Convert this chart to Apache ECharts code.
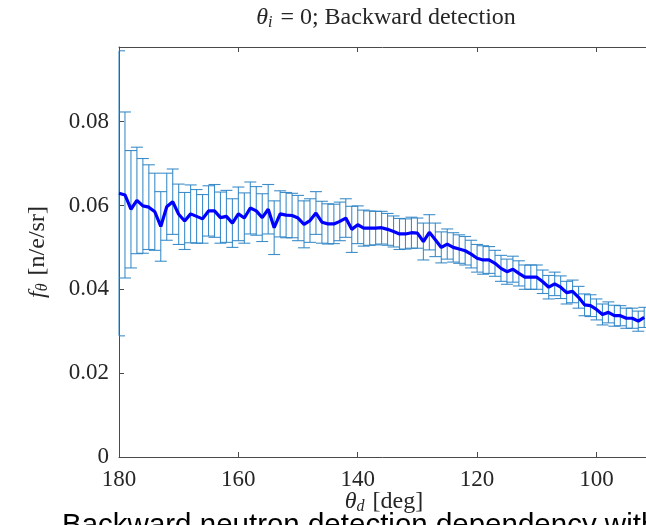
<!DOCTYPE html>
<html>
<head>
<meta charset="utf-8">
<script src="https://cdn.jsdelivr.net/npm/echarts@6/dist/echarts.min.js"></script>
<style>html,body{margin:0;padding:0;background:#fff}#c{width:646px;height:525px}</style>
</head>
<body>
<div id="c"></div>
<script>
// Detection angle theta_d [deg]
const angles = [180,179,178,177,176,175,174,173,172,171,170,169,168,167,166,165,164,163,162,161,
160,159,158,157,156,155,154,153,152,151,150,149,148,147,146,145,144,143,142,141,
140,139,138,137,136,135,134,133,132,131,130,129,128,127,126,125,124,123,122,121,
120,119,118,117,116,115,114,113,112,111,110,109,108,107,106,105,104,103,102,101,
100,99,98,97,96,95,94,93,92];
// f_theta [n/e/sr]
const fTheta = [0.0629,0.0625,0.0591,0.0612,0.0599,0.0596,0.0585,0.0550,0.0597,0.0609,
0.0579,0.0563,0.0580,0.0574,0.0568,0.0587,0.0587,0.0571,0.0574,0.0558,
0.0580,0.0570,0.0594,0.0587,0.0571,0.0591,0.0547,0.0580,0.0577,0.0576,
0.0570,0.0555,0.0564,0.0582,0.0560,0.0556,0.0556,0.0562,0.0570,0.0543,
0.0554,0.0546,0.0546,0.0546,0.0547,0.0543,0.0538,0.0532,0.0532,0.0535,
0.0534,0.0514,0.0536,0.0518,0.0500,0.0508,0.0500,0.0496,0.0492,0.0484,
0.0474,0.0470,0.0470,0.0462,0.0450,0.0442,0.0448,0.0438,0.0429,0.0429,
0.0429,0.0418,0.0405,0.0413,0.0405,0.0392,0.0395,0.0381,0.0363,0.0361,
0.0352,0.0340,0.0345,0.0337,0.0337,0.0331,0.0331,0.0324,0.0333];
// error bar half-widths
const errHalf = [0.0340,0.0198,0.0140,0.0127,0.0113,0.0101,0.0092,0.0083,0.0080,0.0078,
0.0072,0.0068,0.0069,0.0064,0.0058,0.0060,0.0063,0.0061,0.0062,0.0058,
0.0064,0.0060,0.0062,0.0058,0.0057,0.0059,0.0064,0.0055,0.0054,0.0053,
0.0054,0.0056,0.0052,0.0051,0.0050,0.0048,0.0047,0.0046,0.0046,0.0055,
0.0045,0.0043,0.0041,0.0040,0.0039,0.0038,0.0037,0.0037,0.0036,0.0037,
0.0036,0.0044,0.0042,0.0040,0.0037,0.0036,0.0035,0.0034,0.0034,0.0033,
0.0033,0.0034,0.0032,0.0031,0.0031,0.0030,0.0031,0.0030,0.0029,0.0029,
0.0029,0.0028,0.0028,0.0028,0.0027,0.0027,0.0027,0.0026,0.0026,0.0026,
0.0025,0.0025,0.0025,0.0025,0.0024,0.0024,0.0024,0.0024,0.0024];
const xTicks = [180,160,140,120,100];
const yTicks = [0,0.02,0.04,0.06,0.08];

const lineData = angles.map((a,i)=>[a,fTheta[i]]);
const errData = angles.map((a,i)=>[a,fTheta[i]-errHalf[i],fTheta[i]+errHalf[i]]);

const SERIF = '"Liberation Serif","DejaVu Serif",serif';
const AX = '#4a4a4a';
const TXT = '#262626';
const richMath = {
  it:{fontFamily:SERIF, fontStyle:'italic', fontSize:24, fill:TXT, color:TXT},
  rm:{fontFamily:SERIF, fontSize:24, fill:TXT, color:TXT},
  sub:{fontFamily:SERIF, fontStyle:'italic', fontSize:16, fill:TXT, color:TXT, padding:[10,2,0,0]}
};

const chart = echarts.init(document.getElementById('c'));
chart.setOption({
  animation:false,
  backgroundColor:'#fff',
  grid:{left:119, top:47, right:0, bottom:68},
  xAxis:[{
    type:'value', min:91.7, max:180, inverse:true, position:'bottom',
    axisLine:{show:true, lineStyle:{color:AX, width:1}},
    axisTick:{show:true, inside:true, length:5, lineStyle:{color:AX}, customValues:xTicks},
    axisLabel:{color:TXT, fontFamily:SERIF, fontSize:23, margin:11, customValues:xTicks},
    splitLine:{show:false}
  },{
    type:'value', min:91.7, max:180, inverse:true, position:'top',
    axisLine:{show:true, lineStyle:{color:AX, width:1}},
    axisTick:{show:true, inside:true, length:5, lineStyle:{color:AX}, customValues:xTicks},
    axisLabel:{show:false},
    splitLine:{show:false}
  }],
  yAxis:{
    type:'value', min:0, max:0.0978,
    axisLine:{show:true, lineStyle:{color:AX, width:1}},
    axisTick:{show:true, inside:true, length:5, lineStyle:{color:AX}, customValues:yTicks},
    axisLabel:{color:TXT, fontFamily:SERIF, fontSize:23, margin:10, customValues:yTicks,
      formatter:v=> v===0 ? '0' : v.toFixed(2)},
    splitLine:{show:false}
  },
  series:[{
    type:'custom',
    xAxisIndex:0,
    encode:{x:0, y:[1,2]},
    data:errData,
    z:2,
    renderItem:function(params, api){
      const x = api.value(0);
      const pLo = api.coord([x, api.value(1)]);
      const pHi = api.coord([x, api.value(2)]);
      const cs = params.coordSys;
      const hw = 6;
      const l = Math.max(pLo[0]-hw, cs.x), r = Math.min(pLo[0]+hw, cs.x+cs.width);
      const st = {stroke:'#2a82c4', lineWidth:1.1, opacity:0.9};
      return {type:'group', children:[
        {type:'line', shape:{x1:pLo[0], y1:pLo[1], x2:pHi[0], y2:pHi[1]}, style:st},
        {type:'line', shape:{x1:l, y1:pLo[1], x2:r, y2:pLo[1]}, style:st},
        {type:'line', shape:{x1:l, y1:pHi[1], x2:r, y2:pHi[1]}, style:st}
      ]};
    }
  },{
    type:'line',
    xAxisIndex:0,
    data:lineData,
    showSymbol:false,
    symbol:'none',
    z:3,
    lineStyle:{color:'#0000ff', width:3.2},
    itemStyle:{color:'#0000ff'}
  }],
  graphic:[
    {type:'text', silent:true,
      style:{x:386, y:18, text:'{it|θ}{sub|i}{rm| = 0; Backward detection}', align:'center', verticalAlign:'middle',
        rich:richMath, font:'24px "Liberation Serif"', fill:TXT}},
    {type:'text', silent:true,
      style:{x:384, y:502, text:'{it|θ}{sub|d}{rm| [deg]}', align:'center', verticalAlign:'middle',
        rich:richMath, font:'24px "Liberation Serif"', fill:TXT}},
    {type:'text', silent:true, x:38, y:252, rotation:Math.PI/2,
      style:{x:0, y:0, text:'{it|f}{sub|θ}{rm| [n/e/sr]}', align:'center', verticalAlign:'middle',
        rich:richMath, font:'24px "Liberation Serif"', fill:TXT}},
    {type:'text', silent:true,
      style:{x:62, y:511, text:'Backward neutron detection dependency with', align:'left', verticalAlign:'top',
        font:'29.5px "Liberation Sans", Arial, sans-serif', fill:'#000'}}
  ]
});
</script>
</body>
</html>
